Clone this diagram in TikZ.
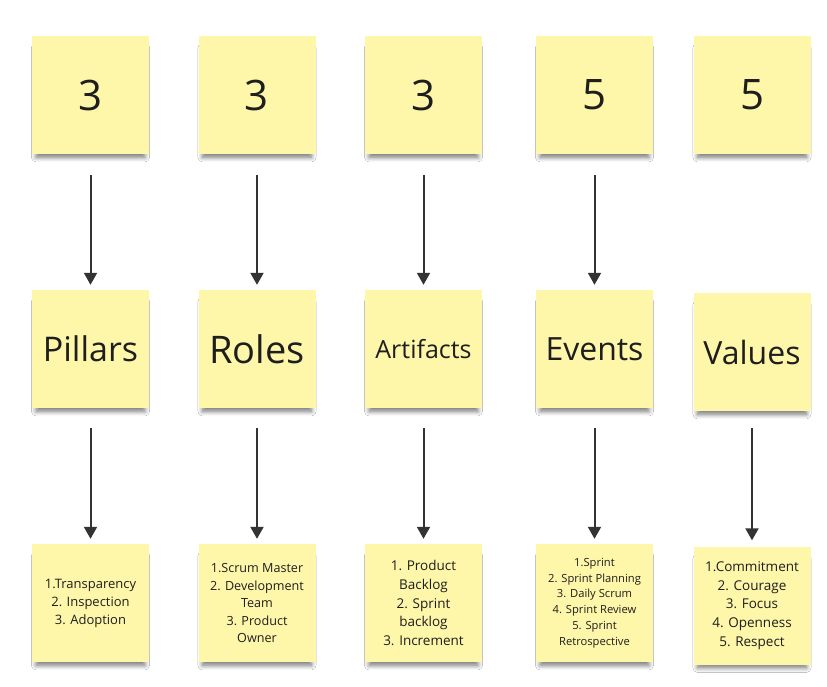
\documentclass[tikz,border=0pt]{standalone}
\usepackage{fontspec}
\setmainfont{Open Sans}
\usetikzlibrary{arrows.meta,shadows.blur}
\definecolor{notefill}{HTML}{FEF6A9}
\definecolor{notetext}{HTML}{1E1E1E}
\definecolor{arrowcol}{HTML}{333333}
\tikzset{
  note/.style={minimum width=117pt, minimum height=118pt, fill=notefill, inner sep=2pt,
    align=center, text=notetext,
    blur shadow={shadow xshift=0pt, shadow yshift=-8pt, shadow scale=0.93,
      shadow blur steps=8, shadow blur radius=5pt, shadow opacity=55}},
  numtxt/.style={font=\fontsize{42}{46}\selectfont},
  titletxt/.style={font=\fontsize{34}{38}\selectfont},
  arr/.style={draw=arrowcol, line width=2pt, -{Triangle[width=13pt,length=12pt]}},
}
\begin{document}
\begin{tikzpicture}[x=1pt,y=-1pt]
\useasboundingbox[fill=white] (0,0) rectangle (827,686);
% row 1
\node[note,numtxt] (n1) at (90.5,95) {3};
\node[note,numtxt] (n2) at (257,95) {3};
\node[note,numtxt] (n3) at (423.5,95) {3};
\node[note,numtxt] (n4) at (594.5,95) {5};
\node[note,numtxt] (n5) at (752,95) {5};
% row 2
\node[note,titletxt] (t1) at (90.5,349) {Pillars};
\node[note,font=\fontsize{38}{42}\selectfont] (t2) at (257,349) {Roles};
\node[note,font=\fontsize{25}{29}\selectfont] (t3) at (423.5,349) {Artifacts};
\node[note,font=\fontsize{32}{36}\selectfont] (t4) at (594.5,349) {Events};
\node[note,font=\fontsize{32}{36}\selectfont] (t5) at (752,352) {Values};
% row 3
\node[note,font=\fontsize{13}{18}\selectfont] (l1) at (90.5,603) {1.Transparency\\2. Inspection\\3. Adoption};
\node[note,font=\fontsize{12.6}{17.5}\selectfont] (l2) at (257,603) {1.Scrum Master\\2. Development\\Team\\3. Product\\Owner};
\node[note,font=\fontsize{13.5}{18.8}\selectfont] (l3) at (423.5,603) {1. Product\\Backlog\\2. Sprint\\backlog\\3. Increment};
\node[note,font=\fontsize{11.2}{15.8}\selectfont] (l4) at (594.5,603) {1.Sprint\\2. Sprint Planning\\3. Daily Scrum\\4. Sprint Review\\5. Sprint\\Retrospective};
\node[note,font=\fontsize{13.5}{18.8}\selectfont] (l5) at (752,605.5) {1.Commitment\\2. Courage\\3. Focus\\4. Openness\\5. Respect};
% arrows
\foreach \a/\b in {n1/t1,n2/t2,n3/t3,n4/t4}
  \draw[arr, shorten <=21pt, shorten >=5pt] (\a.south) -- (\b.north);
\foreach \a/\b in {t1/l1,t2/l2,t3/l3,t4/l4}
  \draw[arr, shorten <=20pt, shorten >=5pt] (\a.south) -- (\b.north);
\draw[arr, shorten <=17pt, shorten >=6pt] (t5.south) -- (l5.north);
\end{tikzpicture}
\end{document}
